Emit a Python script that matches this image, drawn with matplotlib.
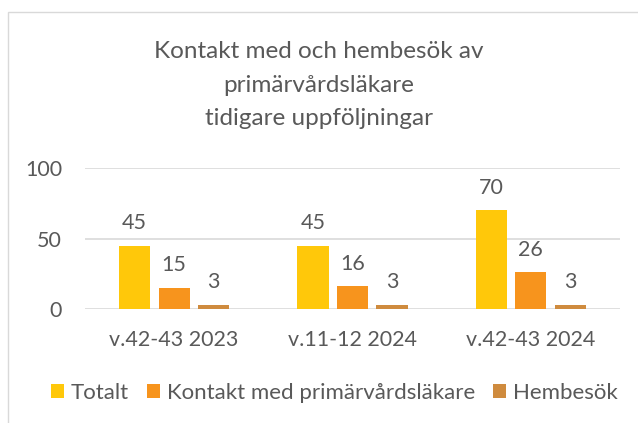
import numpy as np
import matplotlib.pyplot as plt
from matplotlib.patches import Rectangle

categories = ["v.42-43 2023", "v.11-12 2024", "v.42-43 2024"]
totalt = [45, 45, 70]
kontakt = [15, 16, 26]
hembesok = [3, 3, 3]
series_names = ["Totalt", "Kontakt med primärvårdsläkare", "Hembesök"]
colors = ["#FFC80A", "#F7941D", "#CF8B3E"]

plt.rcParams['font.family'] = ['Lato', 'DejaVu Sans']
txt = "#595959"

fig = plt.figure(figsize=(6.38, 4.23), dpi=100)
fig.patches.append(Rectangle((8 / 638, -0.1), 1.2, 1 - 12 / 423 + 0.1,
                             transform=fig.transFigure, fill=False,
                             edgecolor="#D9D9D9", lw=1))

ax = fig.add_axes([0.1332, 0.2695, 0.8386, 0.3333])
x = np.arange(len(categories))
w = 0.175
step = 0.222
for i, (vals, name, c) in enumerate(zip([totalt, kontakt, hembesok], series_names, colors)):
    bars = ax.bar(x + (i - 1) * step, vals, w, color=c, label=name, zorder=3)
    for b, v in zip(bars, vals):
        ax.annotate(str(v), (b.get_x() + b.get_width() / 2, v), xytext=(0, 9),
                    textcoords="offset points", ha="center", va="bottom",
                    fontsize=15.5, color=txt)

ax.set_xlim(-0.5, 2.5)
ax.set_ylim(0, 100)
ax.set_yticks([0, 50, 100])
ax.set_xticks(x)
ax.set_xticklabels(categories)
ax.grid(axis="y", color="#D9D9D9", lw=1.2, zorder=0)
for s in ax.spines.values():
    s.set_visible(False)
ax.tick_params(length=0, labelsize=15.5, labelcolor=txt)
ax.tick_params(axis="y", pad=16.5)
ax.tick_params(axis="x", pad=15)

fig.text(0.5, 1 - 85 / 423, "Kontakt med och hembesök av\nprimärvårdsläkare\ntidigare uppföljningar",
         ha="center", va="center", fontsize=17.5, color=txt, linespacing=1.75)

fig.legend(loc="center", bbox_to_anchor=(334 / 638, 1 - 393 / 423), ncol=3, frameon=False,
           fontsize=16, labelcolor=txt, handlelength=0.6, handleheight=0.6,
           handletextpad=0.3, columnspacing=0.8)

fig.savefig("out.png", dpi=100)
